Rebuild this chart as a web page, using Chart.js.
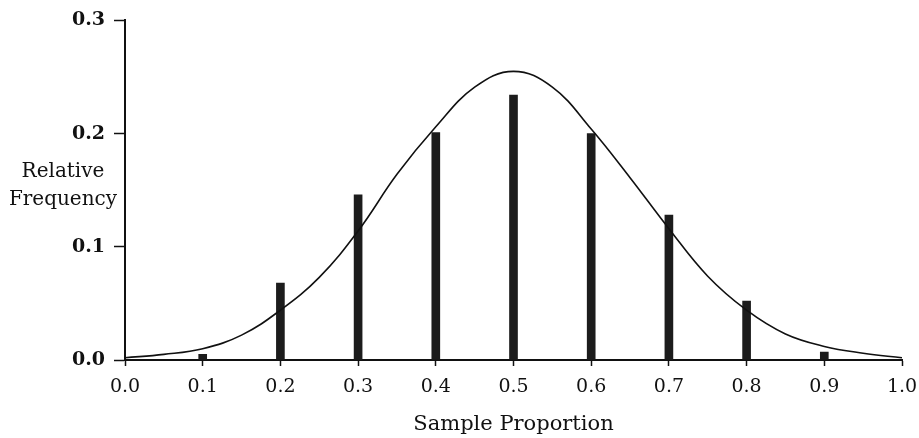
<!DOCTYPE html>
<html>
<head>
<meta charset="utf-8">
<script src="https://cdn.jsdelivr.net/npm/chart.js@4"></script>
<style>
  html, body { margin: 0; padding: 0; background: #fff; }
  #wrap { width: 919px; height: 438px; }
</style>
</head>
<body>
<div id="wrap"><canvas id="chart" width="919" height="438"></canvas></div>
<script>
// Sample proportions and their relative frequencies (bars)
const proportions = [0.1, 0.2, 0.3, 0.4, 0.5, 0.6, 0.7, 0.8, 0.9];
const frequencies = [0.005, 0.068, 0.146, 0.201, 0.234, 0.200, 0.128, 0.052, 0.007];

// Smooth curve
const curveX = [0.00, 0.05, 0.10, 0.15, 0.20, 0.25, 0.30, 0.35, 0.40, 0.45, 0.50,
                0.55, 0.60, 0.65, 0.70, 0.75, 0.80, 0.85, 0.90, 0.95, 1.00];
const curveY = [0.002, 0.005, 0.010, 0.022, 0.044, 0.073, 0.114, 0.164, 0.206, 0.241, 0.255,
                0.241, 0.204, 0.161, 0.116, 0.074, 0.044, 0.023, 0.012, 0.006, 0.002];

const xTicks = [0.0, 0.1, 0.2, 0.3, 0.4, 0.5, 0.6, 0.7, 0.8, 0.9, 1.0];
const yTicks = [0.0, 0.1, 0.2, 0.3];

const FONT = "'DejaVu Serif', serif";

// horizontal axis titles
const titlesPlugin = {
    id: 'titles',
    afterDraw(chart) {
        const ctx = chart.ctx;
        const area = chart.chartArea;
        ctx.save();
        ctx.fillStyle = '#111';
        ctx.textAlign = 'center';
        ctx.textBaseline = 'middle';
        ctx.font = '20px ' + FONT;
        ctx.fillText('Relative', 63, 172);
        ctx.fillText('Frequency', 63, 200);
        ctx.font = '21px ' + FONT;
        ctx.fillText('Sample Proportion', (area.left + area.right) / 2, 425);
        ctx.restore();
    }
};

new Chart(document.getElementById('chart'), {
    type: 'bar',
    data: {
        datasets: [{
            type: 'line',
            data: curveX.map((x, i) => ({ x: x, y: curveY[i] })),
            borderColor: '#111',
            borderWidth: 1.6,
            pointRadius: 0,
            tension: 0.4,
            fill: false,
            order: 0
        }, {
            type: 'bar',
            data: proportions.map((x, i) => ({ x: x, y: frequencies[i] })),
            backgroundColor: '#1c1c1c',
            barThickness: 8,
            order: 1
        }]
    },
    options: {
        responsive: false,
        animation: false,
        layout: { padding: { top: 17, right: 17, left: 0, bottom: 0 } },
        plugins: {
            legend: { display: false },
            tooltip: { enabled: false }
        },
        scales: {
            x: {
                type: 'linear',
                min: 0,
                max: 1,
                offset: false,
                afterBuildTicks: s => { s.ticks = xTicks.map(v => ({ value: v })); },
                afterFit: s => { s.height = 78; s.paddingRight = 0; s.paddingLeft = 0; },
                border: { display: true, color: '#111', width: 2 },
                grid: { offset: false, drawOnChartArea: false, color: '#111', tickLength: 6, tickWidth: 1.5 },
                ticks: {
                    color: '#111',
                    padding: 10,
                    maxRotation: 0,
                    font: { family: FONT, size: 19 },
                    callback: v => v.toFixed(1)
                }
            },
            y: {
                min: 0,
                max: 0.3,
                afterBuildTicks: s => { s.ticks = yTicks.map(v => ({ value: v })); },
                afterFit: s => { s.width = 125; },
                border: { display: true, color: '#111', width: 2 },
                grid: { drawOnChartArea: false, color: '#111', tickLength: 11, tickWidth: 1.5 },
                ticks: {
                    color: '#111',
                    padding: 9,
                    font: { family: FONT, size: 19, weight: 'bold' },
                    callback: v => v.toFixed(1)
                }
            }
        }
    },
    plugins: [titlesPlugin]
});
</script>
</body>
</html>
